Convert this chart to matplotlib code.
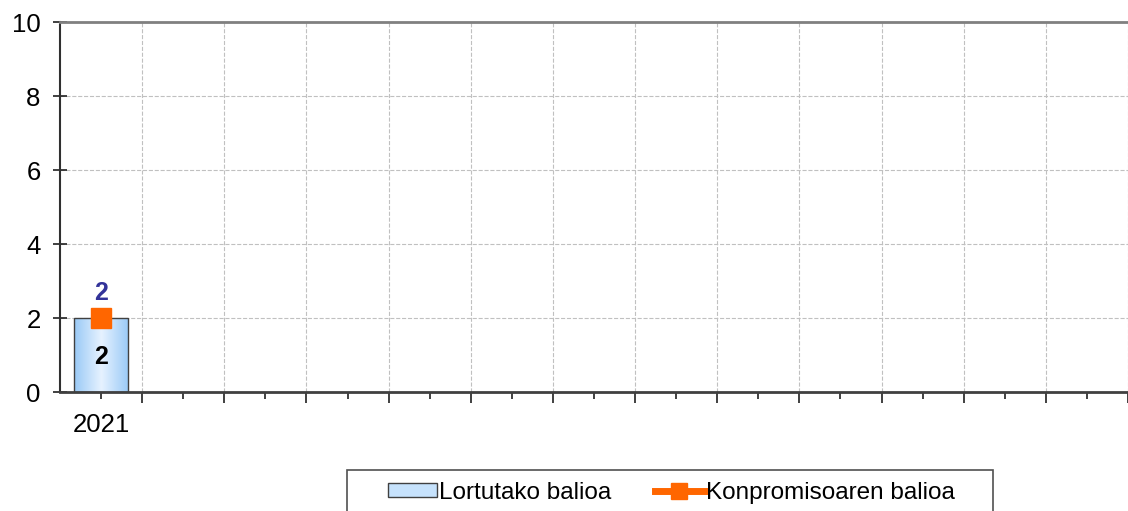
import matplotlib.pyplot as plt
from matplotlib.lines import Line2D
from matplotlib.patches import Patch, Rectangle
import numpy as np

plt.rcParams['font.family'] = ['Liberation Sans', 'DejaVu Sans']

# data
years = ["2021", "", "", "", "", "", "", "", "", "", "", "", ""]
achieved = [2]
commitment = [2]
yticks = [0, 2, 4, 6, 8, 10]

W, H = 1128, 511
fig = plt.figure(figsize=(W/100, H/100), dpi=100)
ax = fig.add_axes([60/W, 119/H, 1 - 60/W, 370/H])

x = np.arange(len(years))

# bar with horizontal gradient
bars = ax.bar(x[:len(achieved)], achieved, width=0.66, facecolor='none',
              edgecolor='#404040', linewidth=1, zorder=3)
grad = np.abs(np.linspace(-1, 1, 256))[None, :]
cmap = plt.matplotlib.colors.LinearSegmentedColormap.from_list('b', ['#e6f2ff', '#99c9f6'])
for b in bars:
    im = ax.imshow(grad, cmap=cmap, aspect='auto', zorder=2,
                   extent=(b.get_x(), b.get_x() + b.get_width(), 0, b.get_height()))
    im.set_clip_path(b)
    ax.text(b.get_x() + b.get_width()/2, b.get_height()/2 - 0.05, str(achieved[0]),
            ha='center', va='center', fontsize=18, fontweight='bold', color='black', zorder=5)

# commitment line / markers
ax.plot(x[:len(commitment)], commitment, color='#ff6600', lw=4, marker='s',
        markersize=15, zorder=4)
for xi, v in zip(x, commitment):
    ax.text(xi, v + 0.35, str(v), ha='center', va='bottom', fontsize=18,
            fontweight='bold', color='#333399', zorder=5)

ax.set_xlim(-0.5, 12.37)
ax.set_ylim(0, 10)
ax.set_yticks(yticks)
ax.set_xticks(x + 0.5)
ax.set_xticklabels([])
ax.set_xticks(x, minor=True)
ax.set_xticklabels(years, minor=True)
ax.tick_params(axis='x', which='major', length=8, width=1.2, color='#202020')
ax.tick_params(axis='x', which='minor', length=5, width=1.2, color='#202020',
               labelsize=18.5, pad=10)
ax.tick_params(axis='y', length=10, direction='inout', width=1.2, color='#202020',
               labelsize=18.5, pad=9)
ax.grid(True, which='major', color='#c0c0c0', linestyle='--', linewidth=0.8, zorder=0)
ax.set_axisbelow(True)

ax.spines['left'].set_color('#303030')
ax.spines['left'].set_linewidth(1.5)
ax.spines['bottom'].set_color('#404040')
ax.spines['bottom'].set_linewidth(2)
ax.spines['top'].set_color('#808080')
ax.spines['top'].set_linewidth(2)
ax.spines['right'].set_visible(False)

# legend box (runs off the bottom edge like the original)
fig.patches.append(Rectangle((347/W, -0.05), (993 - 347)/W, 0.05 + (H - 470)/H,
                             transform=fig.transFigure, facecolor='white',
                             edgecolor='#505050', linewidth=1.2))

handles = [Patch(facecolor='#c6e2fc', edgecolor='#404040', linewidth=1),
           Line2D([0], [0], color='#ff6600', lw=5, marker='s', markersize=12)]
leg = fig.legend(handles, ["Lortutako balioa", "Konpromisoaren balioa"],
                 loc='center left', bbox_to_anchor=(388/W, 1 - 493/H),
                 ncol=2, fontsize=17.5, frameon=False,
                 handlelength=2.0, handleheight=0.5,
                 handletextpad=0.1, columnspacing=1.8, borderpad=0,
                 borderaxespad=0)

fig.savefig("out.png", dpi=100)
